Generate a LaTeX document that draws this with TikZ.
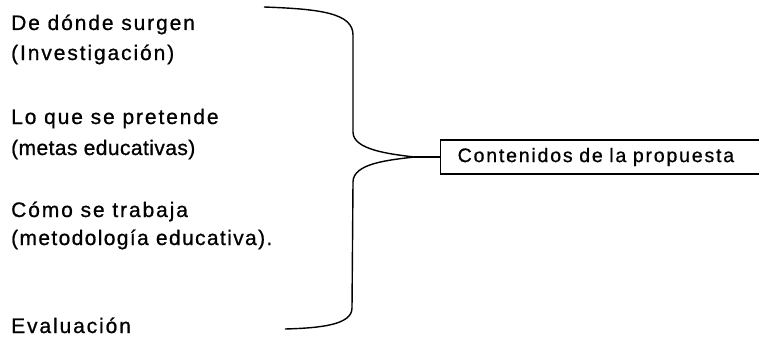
\documentclass[tikz,border=0pt]{standalone}
\usepackage{fontspec}
\setmainfont{Liberation Sans}
\newfontfamily\lblfont[LetterSpace=9,FakeBold=0.8]{Liberation Sans}
\newfontfamily\lblfontB[LetterSpace=2,FakeBold=0.8]{Liberation Sans}
\newfontfamily\lblfontC[LetterSpace=6.5,FakeBold=0.8]{Liberation Sans}
\begin{document}
\begin{tikzpicture}[x=1pt,y=-1pt,
  lbl/.style={anchor=base west, inner sep=0pt, font=\lblfont\fontsize{21}{24}\selectfont},
  box/.style={draw, line width=1.4pt, anchor=west, minimum height=34pt, text width=400pt, align=left, inner xsep=17pt, font=\lblfont\fontsize{19.6}{24}\selectfont},
  brace/.style={line width=1.4pt}]
\useasboundingbox (0,0) rectangle (759,337);
\clip (0,0) rectangle (759,337);
\node[lbl] (t1) at (11,30) {De dónde surgen};
\node[lbl] (t2) at (11,60) {(Investigación)};
\node[lbl] (t3) at (11,124) {Lo que se pretende};
\node[lbl, font=\lblfontB\fontsize{21}{24}\selectfont] (t4) at (11,155) {(metas educativas)};
\node[lbl] (t5) at (11,217) {Cómo se trabaja};
\node[lbl, font=\lblfontC\fontsize{21}{24}\selectfont] (t6) at (11,245) {(metodología educativa).};
\node[lbl] (t7) at (11,333) {Evaluación};
\node[box] (box) at (440,157) {Contenidos de la propuesta};
\coordinate (top) at (264,7);
\coordinate (tip) at (414,157);
\coordinate (bot) at (285,329);
\draw[brace] (top) .. controls (320,9) and (353,13) .. (353,35) -- (353,132)
  .. controls (353,150) and (390,154) .. (tip)
  .. controls (390,160) and (353,163) .. (353,182) -- (352,308)
  .. controls (352,325) and (320,328) .. (bot);
\draw[brace] (tip) -- (box.west);
\end{tikzpicture}
\end{document}
